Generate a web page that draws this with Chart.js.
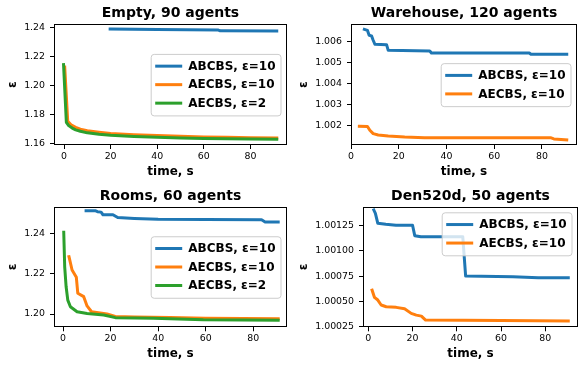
<!DOCTYPE html>
<html>
<head>
<meta charset="utf-8">
<script src="https://cdn.jsdelivr.net/npm/chart.js@4.4.1/dist/chart.umd.min.js"></script>
<style>
  body { margin: 0; background: #fff; }
  #wrap { position: relative; width: 584px; height: 368px; }
  #wrap canvas { position: absolute; }
</style>
</head>
<body>
<div id="wrap">
  <canvas id="c-empty" width="292" height="184" style="left:0;top:0"></canvas>
  <canvas id="c-warehouse" width="292" height="184" style="left:292px;top:0"></canvas>
  <canvas id="c-rooms" width="292" height="184" style="left:0;top:184px"></canvas>
  <canvas id="c-den" width="292" height="184" style="left:292px;top:184px"></canvas>
</div>
<script>
// ---- Empty, 90 agents ----
const emptyT_ab10 = [19.8, 40, 66, 67, 91.3];
const emptyE_ab10 = [1.2388, 1.2384, 1.2382, 1.2376, 1.2375];
const emptyT_ae10 = [0.3, 1.6, 3, 5, 7, 10, 15, 20, 30, 40, 50, 60, 70, 80, 91.3];
const emptyE_ae10 = [1.2125, 1.1752, 1.1728, 1.171, 1.1697, 1.1687, 1.1677, 1.1668, 1.1659, 1.1653, 1.1648, 1.1644, 1.1641, 1.1639, 1.1637];
const emptyT_ae2 = [-0.2, 1.0, 2, 3.5, 5, 7, 10, 15, 20, 30, 40, 50, 60, 70, 80, 91.3];
const emptyE_ae2 = [1.2143, 1.1745, 1.1722, 1.1705, 1.1693, 1.1683, 1.1672, 1.1662, 1.1655, 1.1647, 1.1642, 1.1636, 1.1633, 1.1631, 1.1629, 1.1628];

// ---- Warehouse, 120 agents ----
const whT_ab10 = [5.6, 6.9, 7.6, 8.6, 9.3, 10, 14.9, 15.6, 33, 33.7, 74.7, 75.4, 90.4];
const whE_ab10 = [1.00657, 1.00652, 1.00629, 1.00626, 1.00605, 1.00586, 1.00584, 1.00557, 1.00554, 1.00544, 1.00544, 1.00538, 1.00538];
const whT_ae10 = [3.5, 6.9, 7.9, 9.3, 11.4, 15.6, 22.5, 30.8, 83.6, 85, 90.4];
const whE_ae10 = [1.00195, 1.00194, 1.00176, 1.0016, 1.00154, 1.00149, 1.00144, 1.00141, 1.00141, 1.00135, 1.0013];

// ---- Rooms, 60 agents ----
const roomsT_ab10 = [9.7, 13.5, 14.5, 16, 16.8, 21, 23, 30, 40, 60, 83.5, 85, 90.5];
const roomsE_ab10 = [1.2512, 1.2512, 1.2507, 1.2505, 1.2492, 1.2492, 1.2478, 1.2474, 1.247, 1.2468, 1.2467, 1.2456, 1.2456];
const roomsT_ae10 = [2.5, 3.8, 5.6, 6.2, 8.7, 10.1, 12, 18.5, 22, 30, 45, 60, 90.5];
const roomsE_ae10 = [1.2284, 1.2218, 1.2182, 1.2103, 1.2086, 1.204, 1.2011, 1.2, 1.1988, 1.1985, 1.1983, 1.1979, 1.1976];
const roomsT_ae2 = [0.3, 0.7, 1.3, 2, 3.1, 5.9, 10.1, 17.1, 22, 38, 59, 90.5];
const roomsE_ae2 = [1.2405, 1.2234, 1.2135, 1.2069, 1.2036, 1.2011, 1.2003, 1.1995, 1.1982, 1.1979, 1.1971, 1.1969];

// ---- Den520d, 50 agents ----
const denT_ab10 = [2.5, 3.2, 4.3, 7.9, 12.5, 20, 21, 23.8, 42.7, 44, 65.4, 76.8, 90.4];
const denE_ab10 = [1.0014, 1.001368, 1.00127, 1.00126, 1.00125, 1.00125, 1.001148, 1.001138, 1.001138, 1.000751, 1.000744, 1.000734, 1.000734];
const denT_ae10 = [1.7, 2.8, 4.3, 5.8, 8.1, 12.6, 16.4, 19.4, 21.7, 24, 25.9, 60, 90.4];
const denE_ae10 = [1.000613, 1.000541, 1.000515, 1.000466, 1.000449, 1.000443, 1.000429, 1.000384, 1.000367, 1.000357, 1.000318, 1.000315, 1.000308];

// tick labels
const timeTicks = [0, 20, 40, 60, 80];
const emptyYTicks = [1.16, 1.18, 1.20, 1.22, 1.24];
const whYTicks = [1.002, 1.003, 1.004, 1.005, 1.006];
const roomsYTicks = [1.20, 1.22, 1.24];
const denYTicks = [1.00025, 1.0005, 1.00075, 1.001, 1.00125];

const BLUE = '#1f77b4', ORANGE = '#ff7f0e', GREEN = '#2ca02c';

Chart.defaults.font.family = "'DejaVu Sans', sans-serif";
Chart.defaults.color = '#000';

// axes frame + matplotlib-like legend box
const framePlugin = {
  id: 'frame',
  afterDraw(chart, args, opts) {
    const { ctx, chartArea: a } = chart;
    ctx.save();
    ctx.strokeStyle = '#000';
    ctx.lineWidth = 1;
    const l = Math.round(a.left) + 0.5, t = Math.round(a.top) + 0.5;
    const r = Math.round(a.right) - 0.5, b = Math.round(a.bottom) - 0.5;
    ctx.strokeRect(l, t, r - l, b - t);

    const sets = chart.data.datasets;
    ctx.font = "bold 12px 'DejaVu Sans'";
    const textW = Math.max(...sets.map(d => ctx.measureText(d.label).width));
    const rowH = 18.5;
    const w = 37.6 + textW + 5;
    const h = sets.length * rowH + 6;
    const x = a.right - 6.5 - w;
    const y = opts.loc === 'upper right' ? a.top + 5.6 : (a.top + a.bottom) / 2 - h / 2;
    ctx.beginPath();
    ctx.roundRect(x + 0.5, y + 0.5, w, h, 3);
    ctx.fillStyle = 'rgba(255,255,255,0.8)';
    ctx.fill();
    ctx.strokeStyle = '#cccccc';
    ctx.stroke();
    ctx.textBaseline = 'middle';
    ctx.textAlign = 'left';
    sets.forEach((d, i) => {
      const cy = y + 3 + rowH / 2 + i * rowH;
      ctx.beginPath();
      ctx.moveTo(x + 4.5, cy);
      ctx.lineTo(x + 31.5, cy);
      ctx.strokeStyle = d.borderColor;
      ctx.lineWidth = 3;
      ctx.stroke();
      ctx.fillStyle = '#000';
      ctx.fillText(d.label, x + 37.6, cy + 0.5);
    });
    ctx.restore();
  }
};

function makeChart(id, p) {
  return new Chart(document.getElementById(id), {
    type: 'line',
    data: {
      datasets: p.series.map((s, i) => ({
        label: s.label,
        data: s.t.map((t, k) => ({ x: t, y: s.e[k] })),
        borderColor: s.color,
        backgroundColor: s.color,
        borderWidth: 3,
        pointRadius: 0,
        tension: 0,
        borderCapStyle: 'square',
        borderJoinStyle: 'round',
        order: p.series.length - i
      }))
    },
    options: {
      responsive: false,
      animation: false,
      layout: { padding: { left: 0, right: p.padRight, top: 0, bottom: 0 } },
      plugins: {
        legend: { display: false },
        tooltip: { enabled: false },
        title: {
          display: true, text: p.title, fullSize: false, color: '#000',
          font: { size: 14, weight: 'bold' }, padding: p.titlePad
        },
        frame: { loc: p.legendLoc }
      },
      scales: {
        x: {
          type: 'linear', min: p.xMin, max: p.xMax,
          grid: { drawOnChartArea: false, drawTicks: true, tickLength: 4, color: '#000' },
          border: { display: false },
          ticks: { padding: 2, font: { size: 9.4 }, color: '#000', maxRotation: 0, callback: v => String(v) },
          afterBuildTicks: s => { s.ticks = timeTicks.map(v => ({ value: v })); },
          afterFit: s => { s.height = p.xAxisH; },
          title: { display: true, text: 'time, s', color: '#000', font: { size: 12, weight: 'bold' }, padding: { top: 0, bottom: p.xTitlePad } }
        },
        y: {
          type: 'linear', min: p.yMin, max: p.yMax,
          grid: { drawOnChartArea: false, drawTicks: true, tickLength: 4, color: '#000' },
          border: { display: false },
          ticks: { padding: 5, font: { size: 9.4 }, color: '#000', callback: v => v.toFixed(p.yDigits) },
          afterBuildTicks: s => { s.ticks = p.yTicks.map(v => ({ value: v })); },
          afterFit: s => { s.width = p.yAxisW; },
          title: { display: true, text: 'ε', color: '#000', font: { size: 12, weight: 'bold' }, padding: { top: p.yTitlePad, bottom: 0 } }
        }
      }
    },
    plugins: [framePlugin]
  });
}

makeChart('c-empty', {
  title: 'Empty, 90 agents',
  series: [
    { label: 'ABCBS, ε=10', t: emptyT_ab10, e: emptyE_ab10, color: BLUE },
    { label: 'AECBS, ε=10', t: emptyT_ae10, e: emptyE_ae10, color: ORANGE },
    { label: 'AECBS, ε=2', t: emptyT_ae2, e: emptyE_ae2, color: GREEN }
  ],
  xMin: -4.3, xMax: 95.7, yMin: 1.15883, yMax: 1.24207, yTicks: emptyYTicks, yDigits: 2,
  yAxisW: 54, padRight: 5, xAxisH: 39, titlePad: { top: 5, bottom: 2.5 },
  yTitlePad: 6, xTitlePad: 5, legendLoc: 'center right'
});

makeChart('c-warehouse', {
  title: 'Warehouse, 120 agents',
  series: [
    { label: 'ABCBS, ε=10', t: whT_ab10, e: whE_ab10, color: BLUE },
    { label: 'AECBS, ε=10', t: whT_ae10, e: whE_ae10, color: ORANGE }
  ],
  xMin: 0, xMax: 94.7, yMin: 1.00106, yMax: 1.00681, yTicks: whYTicks, yDigits: 3,
  yAxisW: 59, padRight: 7, xAxisH: 39, titlePad: { top: 5, bottom: 2.5 },
  yTitlePad: 5, xTitlePad: 5, legendLoc: 'center right'
});

makeChart('c-rooms', {
  title: 'Rooms, 60 agents',
  series: [
    { label: 'ABCBS, ε=10', t: roomsT_ab10, e: roomsE_ab10, color: BLUE },
    { label: 'AECBS, ε=10', t: roomsT_ae10, e: roomsE_ae10, color: ORANGE },
    { label: 'AECBS, ε=2', t: roomsT_ae2, e: roomsE_ae2, color: GREEN }
  ],
  xMin: -3.8, xMax: 94.2, yMin: 1.19341, yMax: 1.25319, yTicks: roomsYTicks, yDigits: 2,
  yAxisW: 54, padRight: 5, xAxisH: 40.7, titlePad: { top: 3.5, bottom: 2.4 },
  yTitlePad: 6, xTitlePad: 6.7, legendLoc: 'center right'
});

makeChart('c-den', {
  title: 'Den520d, 50 agents',
  series: [
    { label: 'ABCBS, ε=10', t: denT_ab10, e: denE_ab10, color: BLUE },
    { label: 'AECBS, ε=10', t: denT_ae10, e: denE_ae10, color: ORANGE }
  ],
  xMin: -2.4, xMax: 94.8, yMin: 1.000247, yMax: 1.001433, yTicks: denYTicks, yDigits: 5,
  yAxisW: 71, padRight: 6, xAxisH: 40.7, titlePad: { top: 3.5, bottom: 2.4 },
  yTitlePad: 5, xTitlePad: 6.7, legendLoc: 'upper right'
});
</script>
</body>
</html>
